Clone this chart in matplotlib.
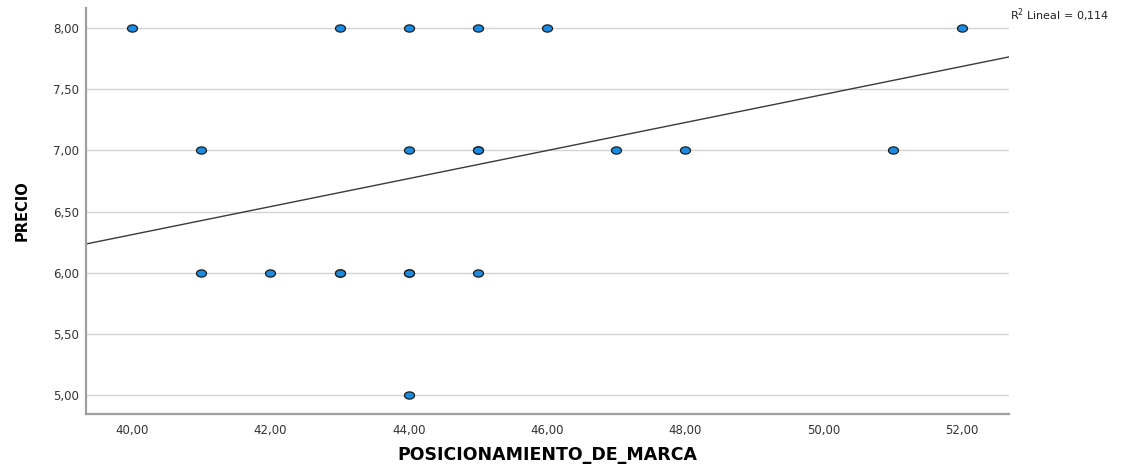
import matplotlib
matplotlib.use("Agg")
import matplotlib.pyplot as plt
import numpy as np
from matplotlib.path import Path

# data (some points overlap)
posicionamiento = [40, 43, 44, 45, 46, 52,
                   41, 44, 45, 45, 47, 48, 51,
                   41, 42, 43, 43, 44, 44, 45,
                   44]
precio = [8, 8, 8, 8, 8, 8,
          7, 7, 7, 7, 7, 7, 7,
          6, 6, 6, 6, 6, 6, 6,
          5]

# fit line as drawn in the reference (R2 lineal = 0,114)
fit_intercept = 1.727
fit_slope = 0.1146
r2_text = "R$^2$ Lineal = 0,114"

x_ticks = [40, 42, 44, 46, 48, 50, 52]
y_ticks = [5.0, 5.5, 6.0, 6.5, 7.0, 7.5, 8.0]
x_lim = (39.335, 52.68)
y_lim = (4.845, 8.164)

plt.rcParams['font.family'] = ['DejaVu Sans']

fig = plt.figure(figsize=(11.29, 4.65), dpi=100)
ax = fig.add_axes([0.0762, 0.1097, 0.8175, 0.8731])

# slightly wide ellipse marker like SPSS
t = np.linspace(0, 2 * np.pi, 40)
ellipse = Path(np.column_stack([np.cos(t), 0.72 * np.sin(t)]), closed=True)

for yv in y_ticks:
    ax.axhline(yv, color='#d4d4d4', lw=1.0, zorder=1)

xs = np.array(x_lim)
ax.plot(xs, fit_intercept + fit_slope * xs, color='#3a3a3a', lw=1.0, zorder=2)

ax.scatter(posicionamiento, precio, marker=ellipse, s=52, c='#1a8be0',
           edgecolors='#1c1c1c', linewidths=0.9, zorder=3)

ax.set_xlim(*x_lim)
ax.set_ylim(*y_lim)
ax.set_xticks(x_ticks)
ax.set_yticks(y_ticks)
ax.set_xticklabels([f"{v:.2f}".replace('.', ',') for v in x_ticks])
ax.set_yticklabels([f"{v:.2f}".replace('.', ',') for v in y_ticks])
ax.tick_params(length=0, labelsize=8.5, colors='#333333')
ax.tick_params(axis='x', pad=7)
ax.tick_params(axis='y', pad=5)

for side in ['top', 'right']:
    ax.spines[side].set_visible(False)
for side in ['left', 'bottom']:
    ax.spines[side].set_color('#a0a0a0')
    ax.spines[side].set_linewidth(1.6)

ax.set_xlabel("POSICIONAMIENTO_DE_MARCA", fontsize=12.5, fontweight='bold', labelpad=7)
ax.set_ylabel("PRECIO", fontsize=10.5, fontweight='bold', labelpad=17)

fig.text(0.895, 0.968, r2_text, fontsize=8, color='#222222', ha='left', va='center')

fig.savefig("out.png", dpi=100)
plt.close(fig)
